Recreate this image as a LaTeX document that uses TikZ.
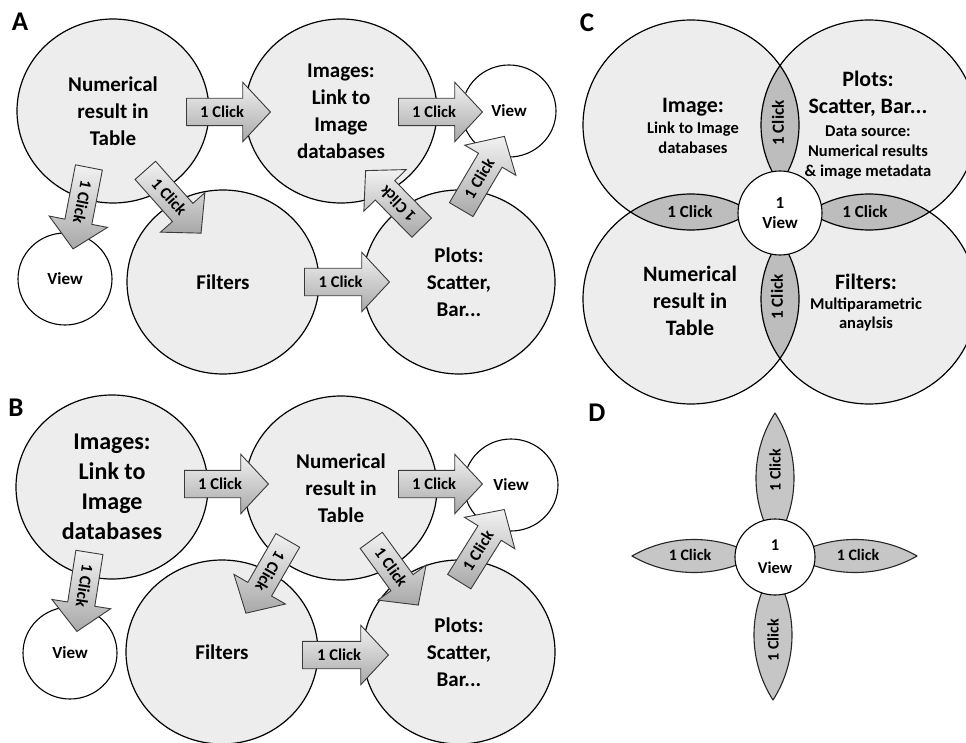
\documentclass[tikz,border=0pt]{standalone}
\usepackage{fontspec}
\setmainfont{Carlito}
\usetikzlibrary{shapes.arrows,shapes.geometric}
\definecolor{circfill}{HTML}{EDEDED}
\definecolor{lensfill}{HTML}{BDBDBD}
\definecolor{petalfill}{HTML}{C6C6C6}
\definecolor{arrtop}{HTML}{F2F2F2}
\definecolor{arrbot}{HTML}{A8A8A8}
\definecolor{arrline}{HTML}{3A3A3A}
\newcommand\mylens[4]{%
  \begin{scope}\clip #1 circle[radius=#3];\fill[#4] #2 circle[radius=#3];\end{scope}
  \begin{scope}\clip #1 circle[radius=#3];\draw[petalline] #2 circle[radius=#3];\end{scope}
  \begin{scope}\clip #2 circle[radius=#3];\draw[petalline] #1 circle[radius=#3];\end{scope}}
\tikzset{
  lbl/.style={font=\bfseries\fontsize{27}{27}\selectfont, inner sep=0pt},
  bigcirc/.style={ellipse, draw=black, line width=1.2pt, fill=circfill,
    minimum width=192pt, minimum height=184pt, inner sep=0pt, align=center,
    font=\bfseries\fontsize{21}{27}\selectfont},
  viewcirc/.style={ellipse, draw=black, line width=1.1pt, fill=white,
    minimum width=94pt, minimum height=92pt, inner sep=0pt,
    font=\bfseries\fontsize{17}{20}\selectfont},
  clickarrow/.style={single arrow, draw=arrline, line width=0.9pt,
    top color=arrtop, bottom color=arrbot,
    font=\bfseries\fontsize{16.5}{17}\selectfont,
    text height=11.5pt, text depth=1pt, inner xsep=3pt, inner ysep=7pt,
    single arrow head extend=16pt, single arrow tip angle=94,
    single arrow head indent=0pt, minimum height=84pt, anchor=tail},
  bigtxt/.style={font=\bfseries\fontsize{22}{27}\selectfont, align=center, inner sep=0pt},
  smalltxt/.style={font=\bfseries\fontsize{16.5}{20}\selectfont, align=center, inner sep=0pt},
  lenstxt/.style={font=\bfseries\fontsize{17}{17}\selectfont, inner sep=0pt},
  petaltxt/.style={font=\bfseries\fontsize{16}{16}\selectfont, inner sep=0pt},
  cline/.style={draw=black, line width=1.2pt},
  petalline/.style={draw=black!85, line width=1.1pt},
  centerview/.style={ellipse, draw=black, line width=1.1pt, fill=white, inner sep=0pt,
    align=center, font=\bfseries\fontsize{17}{20}\selectfont}
}
\begin{document}
\begin{tikzpicture}[x=1pt,y=-1pt]
\useasboundingbox[fill=white] (0,0) rectangle (966,743);

% ---------------- Panel A ----------------
\node[lbl] (labA) at (20,22) {A};
\node[bigcirc] (numA) at (113,111) {Numerical\\result in\\Table};
\node[bigcirc] (imgA) at (341,111) {Images:\\Link to\\Image\\databases};
\node[viewcirc] (viewA1) at (509,111) {View};
\node[viewcirc] (viewA2) at (65,279) {View};
\node[bigcirc] (filtA) at (223,282) {Filters};
\node[bigcirc] (plotA) at (459,282) {Plots:\\Scatter,\\Bar...};

\node[clickarrow] (arA1) at (186,112) {1 Click};
\node[clickarrow] (arA2) at (398,112) {1 Click};
\node[clickarrow, rotate=-101, minimum height=83pt] (arA3) at (89,167) {1 Click};
\node[clickarrow, rotate=-48.4] (arA4) at (145,170) {1 Click};
\node[clickarrow, minimum height=85pt] (arA5) at (304,282) {1 Click};
\node[clickarrow, rotate=134.5, minimum height=80pt] (arA6) at (422,228) {1 Click};
\node[clickarrow, rotate=59.5, minimum height=85pt] (arA7) at (461,210) {1 Click};

% ---------------- Panel B ----------------
\node[lbl] (labB) at (16,408) {B};
\node[bigcirc, font=\bfseries\fontsize{24}{30}\selectfont] (imgB) at (112,487) {Images:\\Link to\\Image\\databases};
\node[bigcirc] (numB) at (341,488) {Numerical\\result in\\Table};
\node[viewcirc] (viewB1) at (511,485) {View};
\node[viewcirc] (viewB2) at (70,653) {View};
\node[bigcirc] (filtB) at (222,652) {Filters};
\node[bigcirc] (plotB) at (459,652) {Plots:\\Scatter,\\Bar...};

\node[clickarrow] (arB1) at (184,484) {1 Click};
\node[clickarrow] (arB2) at (398,484) {1 Click};
\node[clickarrow, rotate=-99, minimum height=80pt] (arB3) at (89.5,552) {1 Click};
\node[clickarrow, rotate=-119.9] (arB4) at (288,540) {1 Click};
\node[clickarrow, minimum height=86pt] (arB5) at (302,655) {1 Click};
\node[clickarrow, rotate=-54, minimum height=80pt] (arB6) at (371,540) {1 Click};
\node[clickarrow, rotate=58, minimum height=85pt] (arB7) at (459,582) {1 Click};

% ---------------- Panel C ----------------
\node[lbl] (labC) at (587,23) {C};
\coordinate (cUL) at (691,125);
\coordinate (cUR) at (869,125);
\coordinate (cLL) at (691,299);
\coordinate (cLR) at (869,299);
\foreach \c in {cUL,cUR,cLL,cLR}
  \fill[circfill] (\c) ellipse [x radius=108pt, y radius=105pt];
\begin{scope}\clip (cUL) ellipse [x radius=108pt, y radius=105pt];
  \fill[lensfill] (cUR) ellipse [x radius=108pt, y radius=105pt];
  \fill[lensfill] (cLL) ellipse [x radius=108pt, y radius=105pt];
\end{scope}
\begin{scope}\clip (cLR) ellipse [x radius=108pt, y radius=105pt];
  \fill[lensfill] (cUR) ellipse [x radius=108pt, y radius=105pt];
  \fill[lensfill] (cLL) ellipse [x radius=108pt, y radius=105pt];
\end{scope}
\foreach \c in {cUL,cUR,cLL,cLR}
  \draw[cline] (\c) ellipse [x radius=108pt, y radius=105pt];
\node[centerview, minimum width=84pt, minimum height=84pt] (cView) at (780,213) {1\\View};

\node[bigtxt] (cImgT) at (693,107) {Image:};
\node[smalltxt] (cImgS) at (693,138) {Link to Image\\databases};
\node[bigtxt] (cPlotT) at (868,93.5) {Plots:\\Scatter, Bar...};
\node[smalltxt] (cPlotS) at (868,153) {Data source:\\Numerical results\\\& image metadata};
\node[bigtxt] (cNum) at (690,301) {Numerical\\result in\\Table};
\node[bigtxt] (cFiltT) at (866,282) {Filters:};
\node[smalltxt, font=\bfseries\fontsize{16.5}{19}\selectfont] (cFiltS) at (866,314.5) {Multiparametric\\anaylsis};
\node[lenstxt, rotate=90] (cK1) at (778,123) {1 Click};
\node[lenstxt] (cK2) at (690,212) {1 Click};
\node[lenstxt] (cK3) at (865,212) {1 Click};
\node[lenstxt, rotate=90] (cK4) at (777,297) {1 Click};

% ---------------- Panel D ----------------
\node[lbl] (labD) at (597,413) {D};
\mylens{(673.3,478)}{(876.7,478)}{120.7pt}{petalfill}
\mylens{(671.3,635)}{(874.7,635)}{120.7pt}{petalfill}
\mylens{(694,447.8)}{(694,664.2)}{124.7pt}{petalfill}
\mylens{(855,447.8)}{(855,664.2)}{124.7pt}{petalfill}
\node[centerview, minimum width=80pt, minimum height=76pt, font=\bfseries\fontsize{16.5}{23}\selectfont] (dView) at (775,557) {1\\View};
\node[petaltxt, rotate=90] (dK1) at (775,470) {1 Click};
\node[petaltxt, rotate=90] (dK2) at (773,640) {1 Click};
\node[petaltxt] (dK3) at (690,555) {1 Click};
\node[petaltxt] (dK4) at (858,555) {1 Click};
\end{tikzpicture}
\end{document}
